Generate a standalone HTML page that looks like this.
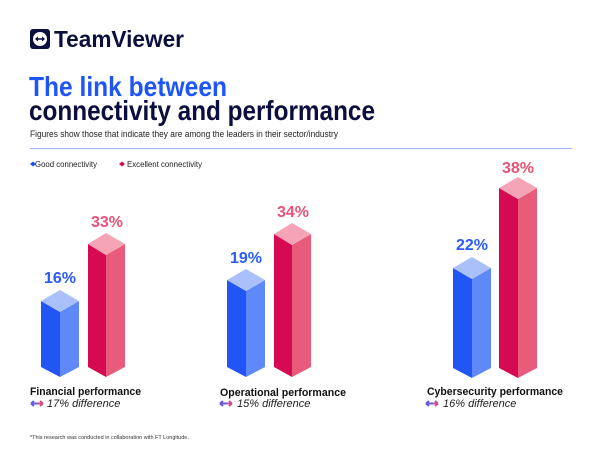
<!DOCTYPE html>
<html><head><style>
body{margin:0;width:600px;height:450px;background:#fff;overflow:hidden;font-family:"Liberation Sans",sans-serif;}
</style></head><body>
<svg width="600" height="450" xmlns="http://www.w3.org/2000/svg" font-family="Liberation Sans, sans-serif">
<rect x="30" y="29" width="20" height="20" rx="3" fill="#0b0f3d"/>
<rect x="33" y="32" width="14" height="14" rx="7" fill="#fff"/>
<path d="M35 39 L38 36.5 V38.2 H42 V36.5 L45 39 L42 41.5 V39.8 H38 V41.5 Z" fill="#0b0f3d"/>
<text x="54" y="47" font-size="23" font-weight="bold" fill="#0b0f3d" textLength="130" lengthAdjust="spacingAndGlyphs">TeamViewer</text>
<text x="29" y="96" font-size="28" font-weight="bold" fill="#1f55f5" textLength="198" lengthAdjust="spacingAndGlyphs">The link between</text>
<text x="29" y="120" font-size="28" font-weight="bold" fill="#0b0f3d" textLength="346" lengthAdjust="spacingAndGlyphs">connectivity and performance</text>
<text x="30" y="137" font-size="9.6" fill="#222" textLength="308" lengthAdjust="spacingAndGlyphs">Figures show those that indicate they are among the leaders in their sector/industry</text>
<line x1="30" y1="148.5" x2="572" y2="148.5" stroke="#9db4f5" stroke-width="1"/>
<path d="M30 164 l3 -2.5 l3 2.5 l-3 2.5z" fill="#1f55f5"/>
<text x="35" y="167" font-size="8.5" fill="#222" textLength="62" lengthAdjust="spacingAndGlyphs">Good connectivity</text>
<path d="M119 164 l3 -2.5 l3 2.5 l-3 2.5z" fill="#d60a52"/>
<text x="127" y="167" font-size="8.5" fill="#222" textLength="75" lengthAdjust="spacingAndGlyphs">Excellent connectivity</text>

<polygon points="41,301 60,312 60,377 41,367" fill="#2255f5"/>
<polygon points="60,312 79,301 79,367 60,377" fill="#5f89f8"/>
<polygon points="41,301 60,290 79,301 60,312" fill="#a9c0fa"/>
<polygon points="88,244 106,255 106,377 88,367" fill="#d60a52"/>
<polygon points="106,255 125,244 125,367 106,377" fill="#e95b7b"/>
<polygon points="88,244 106,233 125,244 106,255" fill="#f4a4b5"/>
<polygon points="227,280 246,291 246,377 227,367" fill="#2255f5"/>
<polygon points="246,291 265,280 265,367 246,377" fill="#5f89f8"/>
<polygon points="227,280 246,269 265,280 246,291" fill="#a9c0fa"/>
<polygon points="274,234 292,245 292,377 274,367" fill="#d60a52"/>
<polygon points="292,245 311,234 311,367 292,377" fill="#e95b7b"/>
<polygon points="274,234 292,223 311,234 292,245" fill="#f4a4b5"/>
<polygon points="453,268 472,279 472,378 453,368" fill="#2255f5"/>
<polygon points="472,279 491,268 491,368 472,378" fill="#5f89f8"/>
<polygon points="453,268 472,257 491,268 472,279" fill="#a9c0fa"/>
<polygon points="499,188 518,199 518,378 499,368" fill="#d60a52"/>
<polygon points="518,199 537,188 537,368 518,378" fill="#e95b7b"/>
<polygon points="499,188 518,177 537,188 518,199" fill="#f4a4b5"/>

<g font-size="16" font-weight="bold" text-anchor="middle">
<text x="60" y="283" fill="#2a5cf5">16%</text>
<text x="107" y="227" fill="#ea5277">33%</text>
<text x="246" y="263" fill="#2a5cf5">19%</text>
<text x="293" y="217" fill="#ea5277">34%</text>
<text x="472" y="250" fill="#2a5cf5">22%</text>
<text x="518" y="173" fill="#ea5277">38%</text>
</g>
<g font-size="11" font-weight="bold" fill="#111">
<text x="30" y="395" textLength="111" lengthAdjust="spacingAndGlyphs">Financial performance</text>
<text x="220" y="396" textLength="126" lengthAdjust="spacingAndGlyphs">Operational performance</text>
<text x="427" y="395" textLength="136" lengthAdjust="spacingAndGlyphs">Cybersecurity performance</text>
</g>
<g font-size="11" font-style="italic" fill="#222">
<text x="47" y="407">17% difference</text>
<text x="237" y="407">15% difference</text>
<text x="443" y="407">16% difference</text>
</g>
<g fill="none" stroke-width="2">
<path d="M31 403.5 H43 M31 403.5 l3 -2.5 M31 403.5 l3 2.5" stroke="#6a5ae0"/>
<path d="M38 403.5 H43 M43 403.5 l-3 -2.5 M43 403.5 l-3 2.5" stroke="#d0508a"/>
<path d="M220 403.5 H232 M220 403.5 l3 -2.5 M220 403.5 l3 2.5" stroke="#6a5ae0"/>
<path d="M227 403.5 H232 M232 403.5 l-3 -2.5 M232 403.5 l-3 2.5" stroke="#d0508a"/>
<path d="M426 403.5 H438 M426 403.5 l3 -2.5 M426 403.5 l3 2.5" stroke="#6a5ae0"/>
<path d="M433 403.5 H438 M438 403.5 l-3 -2.5 M438 403.5 l-3 2.5" stroke="#d0508a"/>
</g>
<text x="30" y="439" font-size="5.5" fill="#333">*This research was conducted in collaboration with FT Longitude.</text>
</svg>
</body></html>
